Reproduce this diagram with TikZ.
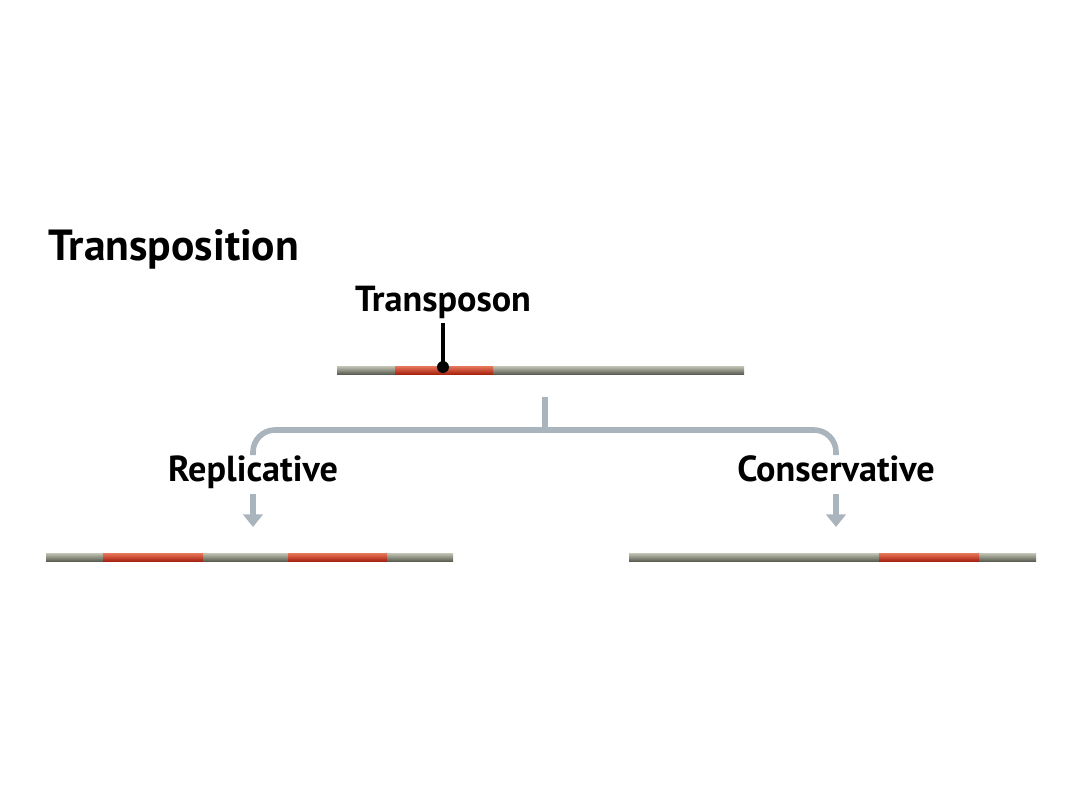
\documentclass[tikz,border=0pt]{standalone}
\usepackage{fontspec}
\setmainfont{PT Sans}
\usepackage{xcolor}
\usepackage{tikz}
\usetikzlibrary{arrows.meta,positioning,calc}

\definecolor{dnaTop}{RGB}{196,198,182}
\definecolor{dnaMid}{RGB}{160,163,146}
\definecolor{dnaBot}{RGB}{92,96,84}
\definecolor{tnTop}{RGB}{232,120,92}
\definecolor{tnMid}{RGB}{214,84,58}
\definecolor{tnBot}{RGB}{168,36,16}
\definecolor{brk}{RGB}{170,180,189}

\tikzset{
  dna/.style={top color=dnaTop, middle color=dnaMid, bottom color=dnaBot},
  tn/.style={top color=tnTop, middle color=tnMid, bottom color=tnBot},
  lbl/.style={font=\fontsize{10.3}{12}\selectfont\bfseries, inner sep=0pt, anchor=base},
  bracket/.style={brk, line width=1.6pt},
  arr/.style={brk, line width=1.6pt, -{Triangle[width=5.5pt,length=3.6pt]}}
}

\begin{document}
\begin{tikzpicture}

%% ── Canvas: 1 px = 0.01 cm ───────────────────────────────────────────────────
\useasboundingbox (0,0) rectangle (10.8,8.1);

%% ── Title ────────────────────────────────────────────────────────────────────
\node[lbl, anchor=base west, font=\fontsize{12.4}{14}\selectfont\bfseries]
  (title) at (0.48, 5.50) {Transposition};

%% ── Parent chromosome ────────────────────────────────────────────────────────
% y = 4.40 (centre), half height 0.04
\shade[dna] (3.37, 4.36) rectangle (7.44, 4.44);
\shade[tn]  (3.95, 4.36) rectangle (4.93, 4.44);

\node[lbl] (tpn) at (4.43, 4.99) {Transposon};
\coordinate (pin) at (4.43, 4.43);
\draw[black, line width=0.9pt] ([yshift=-3.5pt]tpn.base) -- (pin);
\fill[black] (pin) circle (1.7pt);

%% ── Branch bracket ───────────────────────────────────────────────────────────
\coordinate (stem) at (5.45, 4.13);
\draw[bracket] (stem) -- (5.45, 3.80);
\draw[bracket, rounded corners=0.22cm] (2.53, 3.55) |- (8.36, 3.80) -- (8.36, 3.55);

%% ── Branch labels ────────────────────────────────────────────────────────────
\node[lbl] (rep) at (2.53, 3.29) {Replicative};
\node[lbl] (con) at (8.36, 3.29) {Conservative};

\coordinate (repTip) at (2.53, 2.83);
\coordinate (conTip) at (8.36, 2.83);
\draw[arr] ($(rep.base)+(0,-0.13)$) -- (repTip);
\draw[arr] ($(con.base)+(0,-0.13)$) -- (conTip);

%% ── Replicative product: two copies ──────────────────────────────────────────
\shade[dna] (0.46, 2.49) rectangle (4.53, 2.57);
\shade[tn]  (1.03, 2.49) rectangle (2.03, 2.57);
\shade[tn]  (2.88, 2.49) rectangle (3.87, 2.57);

%% ── Conservative product: element moved ──────────────────────────────────────
\shade[dna] (6.29, 2.49) rectangle (10.36, 2.57);
\shade[tn]  (8.79, 2.49) rectangle (9.79, 2.57);

\end{tikzpicture}
\end{document}
